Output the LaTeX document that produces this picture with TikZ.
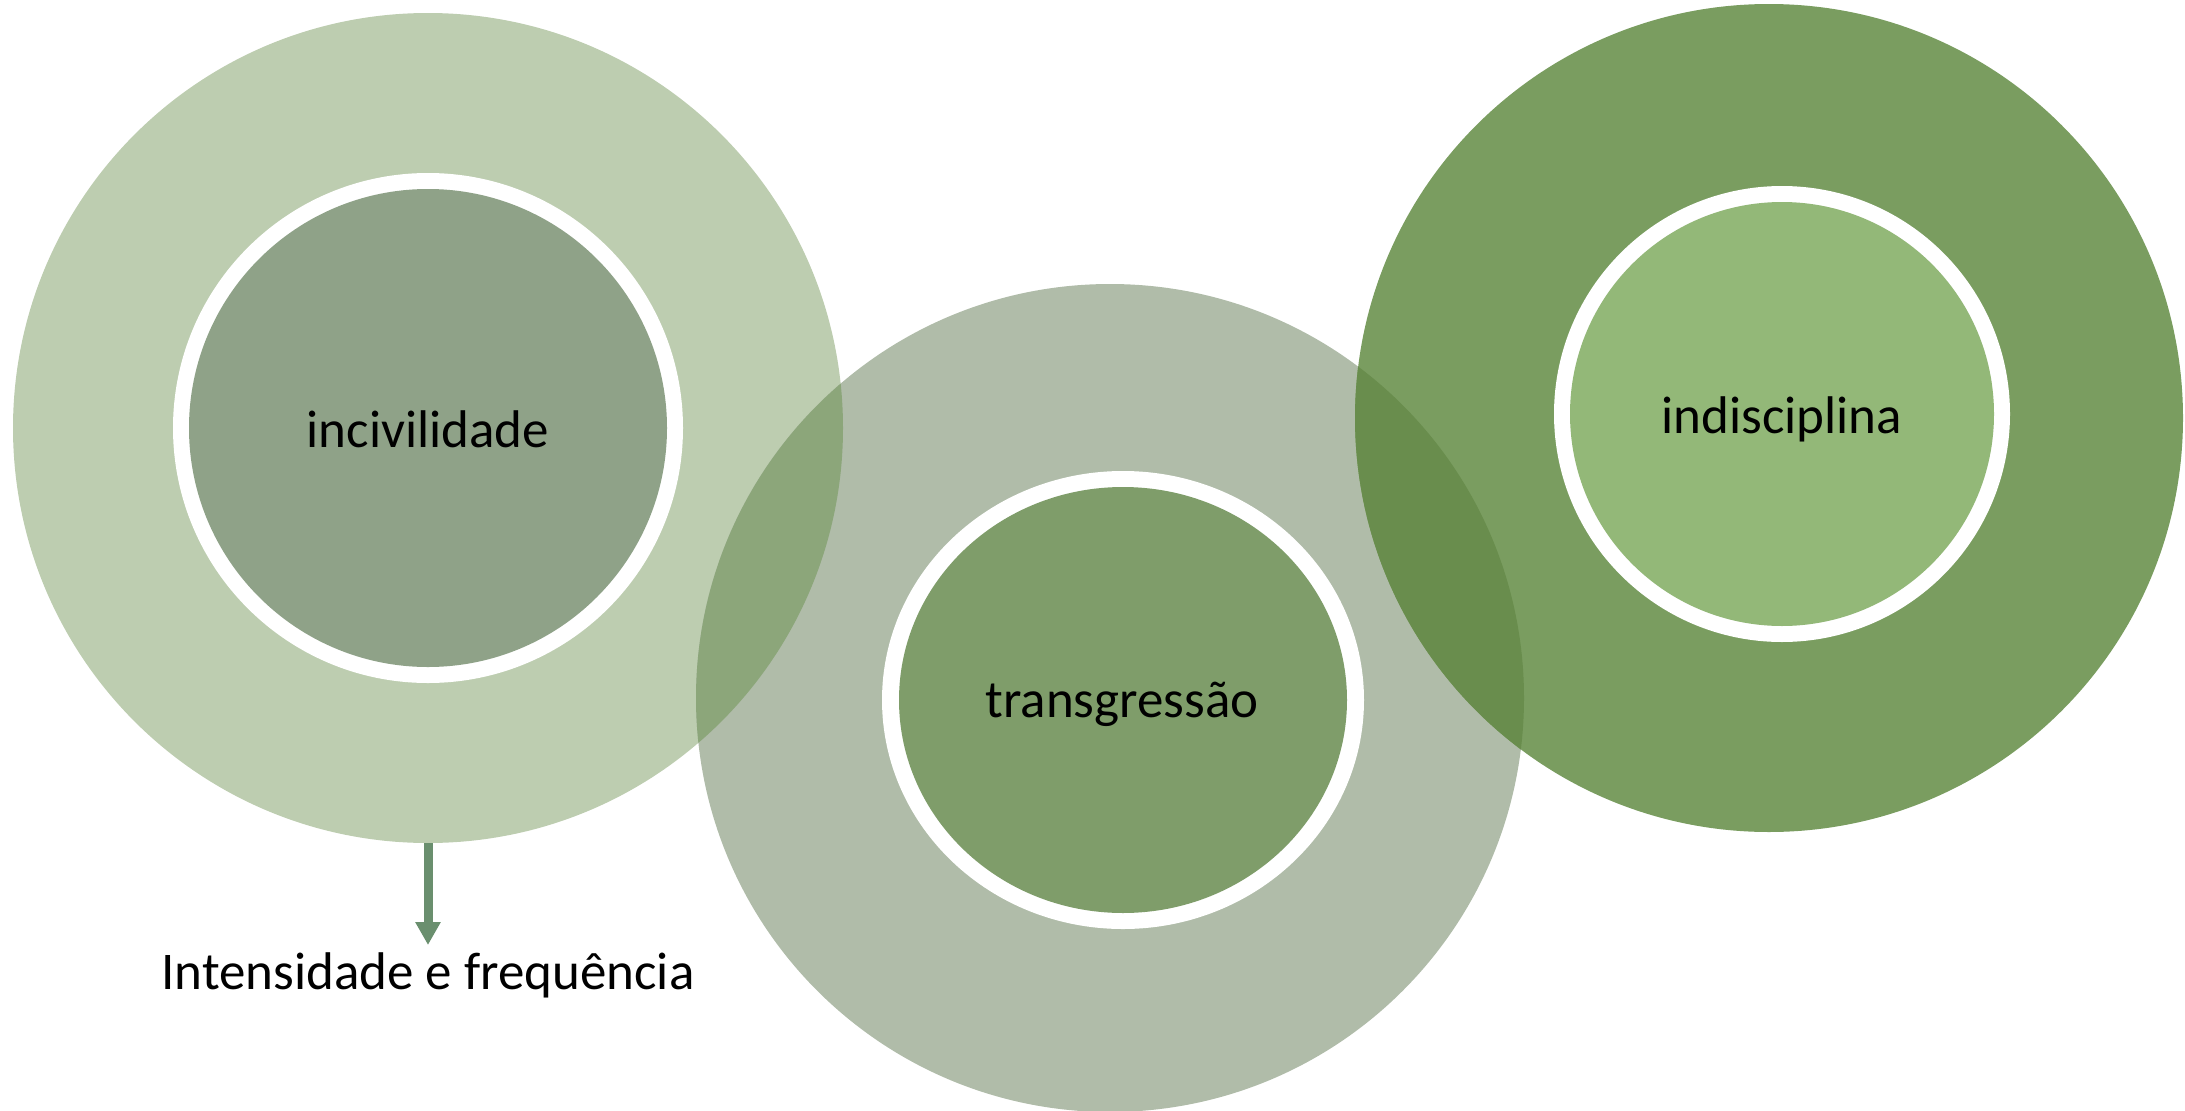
\documentclass[tikz,border=0pt]{standalone}
\usepackage{fontspec}
\setmainfont{Carlito}
\usetikzlibrary{arrows.meta}
\definecolor{leftbig}{HTML}{BDCDB0}
\definecolor{leftinner}{HTML}{8FA288}
\definecolor{midbig}{HTML}{B0BCA9}
\definecolor{ovLM}{HTML}{8CA67A}
\definecolor{midinner}{HTML}{7F9D6A}
\definecolor{rightbig}{HTML}{7A9D60}
\definecolor{ovMR}{HTML}{698D4D}
\definecolor{rightinner}{HTML}{93B878}
\definecolor{arrowc}{HTML}{6A8F6E}
\tikzset{
  lbl/.style={font=\fontsize{53}{62}\selectfont, text=black, inner sep=0pt, anchor=base},
  bigtxt/.style={font=\fontsize{53}{62}\selectfont, text=black, inner sep=0pt, anchor=base},
  disc/.style={circle, inner sep=0pt, draw=none},
}
\begin{document}
\begin{tikzpicture}[x=1pt,y=-1pt]
\useasboundingbox (0,0) rectangle (2185,1111);
% big circles
\node[disc, fill=leftbig, minimum size=830pt] (L) at (428,428) {};
\node[disc, fill=midbig, minimum size=828pt] (M) at (1110,698) {};
\node[disc, fill=rightbig, minimum size=828pt] (R) at (1769,418) {};
% overlaps
\begin{scope}
  \clip (428,428) circle (415);
  \fill[ovLM] (1110,698) circle (414);
\end{scope}
\begin{scope}
  \clip (1110,698) circle (414);
  \fill[ovMR] (1769,418) circle (414);
\end{scope}
% inner rings
\fill[white] (428,428) circle (255);
\node[disc, fill=leftinner, minimum size=478pt] (Li) at (428,428) {};
\fill[white] (1123,700) ellipse [x radius=241, y radius=229];
\fill[midinner] (1123,700) ellipse [x radius=224, y radius=213];
\coordinate (Mi) at (1123,700);
\fill[white] (1782,414) circle (228);
\node[disc, fill=rightinner, minimum size=424pt] (Ri) at (1782,414) {};
% labels
\node[lbl] (t1) at (428,447) {incivilidade};
\node[lbl] (t2) at (1122,717) {transgressão};
\node[lbl] (t3) at (1782,433) {indisciplina};
\node[bigtxt] (t4) at (428,989) {Intensidade e frequência};
\coordinate (tip) at (428,945);
\draw[arrowc, line width=9pt, -{Triangle[width=24pt,length=23pt]}] (L.south) -- (tip);
\end{tikzpicture}
\end{document}
